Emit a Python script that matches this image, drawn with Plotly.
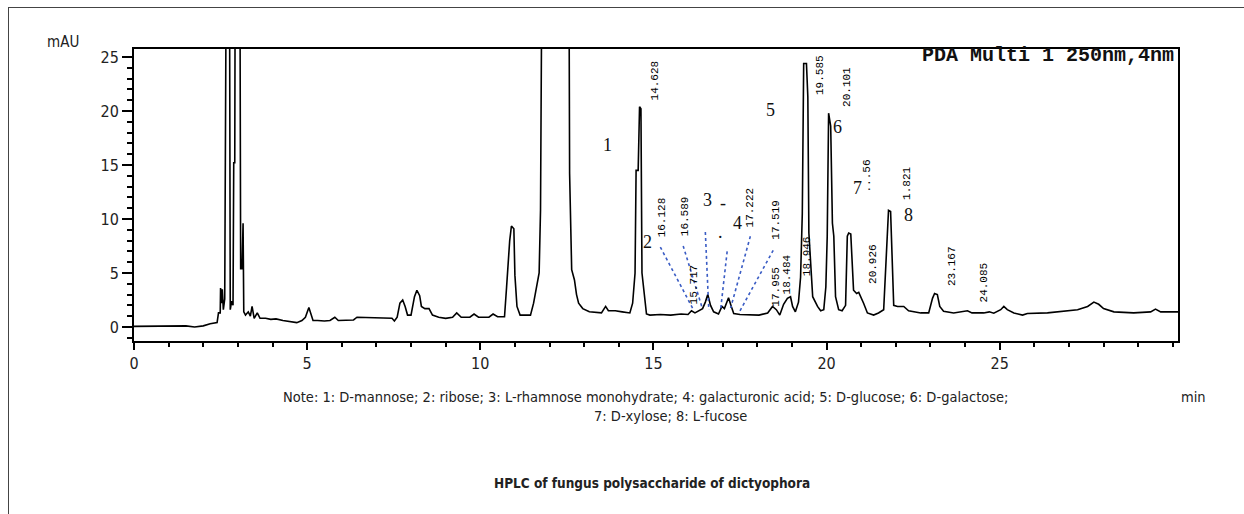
import plotly.graph_objects as go

# ---------------- data ----------------
time_min = [
    0.00, 0.50, 1.00, 1.50, 1.75, 2.00, 2.20, 2.40, 2.44, 2.49, 2.50, 2.53, 2.55, 2.58,
    2.62, 2.64, 2.66, 2.68, 2.75, 2.76, 2.78, 2.82, 2.86, 2.88, 2.91, 2.93, 3.05, 3.08,
    3.12, 3.15, 3.17, 3.22, 3.30, 3.36, 3.41, 3.47, 3.56, 3.64, 3.80, 3.95, 4.10, 4.30,
    4.50, 4.70, 4.85, 4.95, 5.05, 5.12, 5.17, 5.30, 5.50, 5.66, 5.80, 5.90, 6.20, 6.34,
    6.44, 6.80, 7.20, 7.45, 7.52, 7.60, 7.68, 7.76, 7.83, 7.90, 8.00, 8.10, 8.17, 8.25,
    8.30, 8.40, 8.52, 8.62, 8.80, 9.00, 9.20, 9.32, 9.45, 9.70, 9.82, 9.95, 10.25, 10.37,
    10.50, 10.70, 10.76, 10.85, 10.90, 10.97, 11.00, 11.06, 11.15, 11.45, 11.54, 11.64,
    11.70, 11.74, 11.80, 12.55, 12.58, 12.64, 12.72, 12.78, 12.84, 12.96, 13.15, 13.50,
    13.62, 13.70, 13.90, 14.10, 14.32, 14.40, 14.47, 14.50, 14.56, 14.60, 14.64, 14.67,
    14.74, 14.80, 14.90, 15.20, 15.50, 15.80, 16.00, 16.10, 16.20, 16.30, 16.42, 16.50,
    16.57, 16.65, 16.74, 16.88, 16.98, 17.05, 17.17, 17.25, 17.32, 17.50, 17.80, 18.05,
    18.30, 18.44, 18.55, 18.65, 18.76, 18.87, 18.96, 19.02, 19.10, 19.19, 19.25, 19.30,
    19.34, 19.42, 19.46, 19.49, 19.60, 19.74, 19.83, 19.92, 19.98, 20.02, 20.06, 20.12,
    20.17, 20.21, 20.26, 20.35, 20.45, 20.55, 20.60, 20.64, 20.70, 20.78, 20.87, 20.93,
    21.07, 21.18, 21.36, 21.50, 21.65, 21.76, 21.79, 21.85, 21.90, 21.94, 22.05, 22.23,
    22.37, 22.72, 22.95, 23.06, 23.12, 23.20, 23.27, 23.38, 23.67, 24.07, 24.20, 24.54,
    24.70, 24.83, 25.03, 25.12, 25.22, 25.41, 25.66, 25.80, 26.38, 26.67, 27.25, 27.54,
    27.72, 27.86, 28.00, 28.30, 28.87, 29.36, 29.50, 29.65, 30.15,
]
absorbance_mau = [
    0.05, 0.05, 0.10, 0.10, 0.00, 0.10, 0.30, 0.40, 1.30, 1.30, 3.60, 2.20, 3.50, 1.60,
    2.60, 23.0, 25.0, 45.0, 45.0, 22.8, 1.60, 2.40, 2.00, 15.2, 15.2, 45.0, 45.0, 5.40,
    5.40, 9.60, 1.40, 1.10, 1.40, 1.00, 1.90, 0.80, 1.30, 0.80, 0.80, 0.70, 0.75, 0.60,
    0.50, 0.40, 0.60, 0.90, 1.80, 1.20, 0.60, 0.60, 0.55, 0.60, 0.90, 0.60, 0.60, 0.65,
    0.90, 0.85, 0.85, 0.80, 0.55, 0.90, 2.20, 2.50, 1.90, 1.10, 1.10, 2.80, 3.40, 2.90,
    1.90, 1.70, 1.70, 1.10, 0.90, 0.80, 0.90, 1.30, 0.90, 0.90, 1.20, 0.90, 0.90, 1.20,
    0.95, 0.95, 3.70, 8.00, 9.35, 9.10, 4.80, 1.90, 1.10, 1.10, 2.20, 4.00,
    5.00, 10.8, 45.0, 45.0, 14.2, 5.30, 4.35, 3.00, 2.20, 1.70, 1.40, 1.30,
    1.90, 1.50, 1.50, 1.40, 1.30, 2.20, 5.00, 14.5, 14.5, 20.4, 20.2, 5.00,
    3.10, 1.20, 1.10, 1.15, 1.10, 1.20, 1.15, 1.50, 1.30, 1.50, 1.70, 2.30,
    3.00, 2.00, 1.40, 1.20, 1.90, 1.70, 2.70, 1.90, 1.25, 1.15, 1.10, 1.10,
    1.30, 1.90, 1.60, 1.10, 2.10, 2.65, 2.80, 1.90, 1.40, 2.30, 4.60, 10.5,
    24.4, 24.4, 21.3, 8.70, 2.80, 1.90, 1.50, 1.60, 3.70, 8.40, 19.8, 18.6,
    9.60, 8.40, 2.80, 1.60, 1.50, 2.00, 8.40, 8.70, 8.60, 3.40, 3.10, 3.20,
    2.20, 1.30, 1.10, 1.30, 1.60, 8.80, 10.8, 10.7, 5.90, 2.00, 1.90, 1.90,
    1.50, 1.30, 1.30, 2.65, 3.10, 3.00, 1.90, 1.45, 1.30, 1.50, 1.30, 1.30,
    1.40, 1.27, 1.60, 1.90, 1.60, 1.30, 1.10, 1.25, 1.30, 1.40, 1.60, 1.90,
    2.30, 2.10, 1.70, 1.40, 1.30, 1.40, 1.65, 1.40, 1.40,
]

# retention-time labels printed by the instrument software
rt_labels = ["14.628", "16.128", "16.589", "15.717", "17.222", "17.519", "17.955",
             "18.484", "18.946", "19.585", "20.101", "...56", "1.821", "20.926",
             "23.167", "24.085"]
# compound numbers written on the chart
compound_labels = ["1", "2", "3", "-", ".", "4", "5", "6", "7", "8"]

x_ticks = [0, 5, 10, 15, 20, 25]
y_ticks = [0, 5, 10, 15, 20, 25]

# ---------------- layout helpers (placement only) ----------------
rt_pos = [(15.06, 22.87), (15.26, 10.19), (15.92, 10.28), (16.16, 3.9), (17.80, 11.1),
          (18.53, 9.9), (18.53, 3.7), (18.87, 4.9), (19.42, 6.6), (19.83, 23.3),
          (20.61, 22.2), (21.16, 14.0), (22.34, 13.3), (21.36, 5.8), (23.64, 5.6),
          (24.54, 4.1)]
num_pos = [(13.67, 16.85), (14.83, 7.87), (16.56, 11.76), (17.02, 11.5), (16.94, 8.8),
           (17.43, 9.63), (18.38, 20.1), (20.32, 18.5), (20.90, 12.87), (22.37, 10.37)]
leader_lines = [((15.20, 7.4), (16.16, 1.57)), ((15.86, 7.5), (16.41, 1.75)),
                ((16.50, 8.8), (16.60, 1.57)), ((17.13, 7.0), (16.94, 1.57)),
                ((17.80, 8.4), (17.23, 1.75)), ((18.46, 7.1), (17.47, 1.32))]

COND = "Liberation Sans Narrow, DejaVu Sans Condensed, Arial Narrow, sans-serif"

fig = go.Figure()
fig.add_trace(go.Scatter(x=time_min, y=absorbance_mau, mode="lines",
                         line=dict(color="black", width=1.6), hoverinfo="skip",
                         showlegend=False))

annotations = []
for txt, (t, v) in zip(rt_labels, rt_pos):
    annotations.append(dict(x=t, y=v, xref="x", yref="y", text=txt, showarrow=False,
                            textangle=-90, xanchor="center", yanchor="middle",
                            font=dict(family="Liberation Mono, Courier New, monospace",
                                      size=11, color="#000")))
for txt, (t, v) in zip(compound_labels, num_pos):
    annotations.append(dict(x=t, y=v, xref="x", yref="y", text=txt, showarrow=False,
                            xanchor="center", yanchor="middle",
                            font=dict(family="Liberation Serif, Times New Roman, serif",
                                      size=18, color="#111")))

PX0, PX1, PY0, PY1 = 134, 1178, 49, 341


def px_x(px):
    return (px - PX0) / (PX1 - PX0)


def px_y(py):
    return (PY1 - py) / (PY1 - PY0)


annotations += [
    dict(x=px_x(1176), y=px_y(56), xref="paper", yref="paper", showarrow=False,
         text="<b>PDA Multi 1 250nm,4nm</b>", xanchor="right", yanchor="middle",
         font=dict(family="Liberation Mono, Courier New, monospace", size=20, color="#111")),
    dict(x=px_x(63), y=px_y(42), xref="paper", yref="paper", showarrow=False,
         text="mAU", xanchor="center", yanchor="middle",
         font=dict(family=COND, size=15, color="#222")),
    dict(x=px_x(646), y=px_y(397), xref="paper", yref="paper", showarrow=False,
         text="Note: 1: D-mannose; 2: ribose; 3: L-rhamnose monohydrate; 4: galacturonic acid; "
              "5: D-glucose; 6: D-galactose;",
         xanchor="center", yanchor="middle", font=dict(family=COND, size=14.5, color="#222")),
    dict(x=px_x(670), y=px_y(416), xref="paper", yref="paper", showarrow=False,
         text="7: D-xylose; 8: L-fucose", xanchor="center", yanchor="middle",
         font=dict(family=COND, size=14.5, color="#222")),
    dict(x=px_x(1193), y=px_y(397), xref="paper", yref="paper", showarrow=False,
         text="min", xanchor="center", yanchor="middle",
         font=dict(family=COND, size=14.5, color="#222")),
    dict(x=px_x(652), y=px_y(483), xref="paper", yref="paper", showarrow=False,
         text="<b>HPLC of fungus polysaccharide of dictyophora</b>", xanchor="center",
         yanchor="middle", font=dict(family=COND, size=13.5, color="#222")),
]

shapes = []
for (a, b) in leader_lines:
    shapes.append(dict(type="line", xref="x", yref="y", x0=a[0], y0=a[1], x1=b[0], y1=b[1],
                       line=dict(color="#3a5cc4", width=1.6, dash="dot")))
# outer figure frame (top and left edges)
shapes.append(dict(type="line", xref="paper", yref="paper", x0=px_x(8), y0=px_y(7.5),
                   x1=px_x(1244), y1=px_y(7.5), line=dict(color="#444", width=1)))
shapes.append(dict(type="line", xref="paper", yref="paper", x0=px_x(8.5), y0=px_y(7.5),
                   x1=px_x(8.5), y1=px_y(514), line=dict(color="#444", width=1)))

fig.update_layout(
    width=1244, height=514,
    margin=dict(l=PX0, r=1244 - PX1, t=PY0, b=514 - PY1, pad=0),
    paper_bgcolor="white", plot_bgcolor="white",
    annotations=annotations, shapes=shapes,
    showlegend=False,
)
fig.update_xaxes(range=[0, 30.15], tickvals=x_ticks, ticktext=[str(v) for v in x_ticks],
                 showgrid=False, zeroline=False, showline=True, mirror=True,
                 linecolor="black", linewidth=2, ticks="outside", ticklen=7, tickwidth=2,
                 tickcolor="black",
                 minor=dict(dtick=1, tick0=0, ticks="outside", ticklen=4, tickwidth=1.5,
                            tickcolor="black", showgrid=False),
                 tickfont=dict(family=COND, size=16, color="#222"))
fig.update_yaxes(range=[-1.3, 25.74], tickvals=y_ticks, ticktext=[str(v) for v in y_ticks],
                 showgrid=False, zeroline=False, showline=True, mirror=True,
                 linecolor="black", linewidth=2, ticks="outside", ticklen=10, tickwidth=1.5,
                 tickcolor="black",
                 minor=dict(dtick=1, tick0=0, ticks="outside", ticklen=5, tickwidth=1.5,
                            tickcolor="black", showgrid=False),
                 tickfont=dict(family=COND, size=16, color="#222"))

fig.write_html("out.html")
